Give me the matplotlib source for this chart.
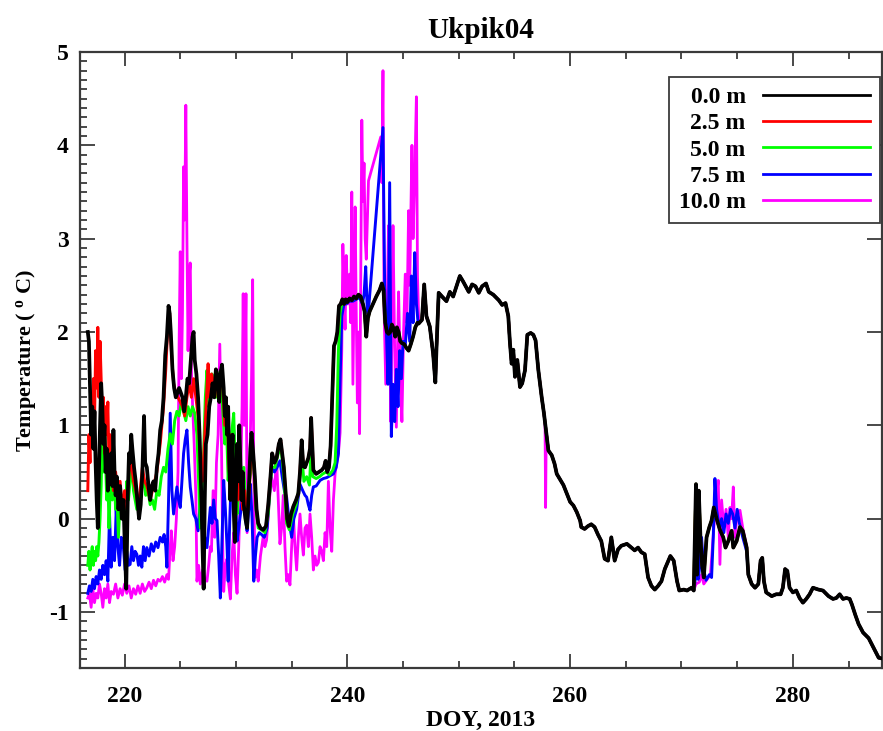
import numpy as np
import matplotlib
matplotlib.use('Agg')
import matplotlib.pyplot as plt
from matplotlib.ticker import MultipleLocator

plt.rcParams['font.family'] = ['Liberation Serif', 'DejaVu Serif']
plt.rcParams['font.weight'] = 'bold'
plt.rcParams['axes.unicode_minus'] = False
plt.rcParams['mathtext.fontset'] = 'custom'
plt.rcParams['mathtext.rm'] = 'Liberation Serif:bold'
plt.rcParams['mathtext.it'] = 'Liberation Serif:bold'
plt.rcParams['mathtext.bf'] = 'Liberation Serif:bold'

# ---- datos (DOY, temperatura en C) ----
etiquetas = ['0.0 m', '2.5 m', '5.0 m', '7.5 m', '10.0 m']
colores = ['#000000', '#ff0000', '#00ff00', '#0000ff', '#ff00ff']

# 0.0 m, tramo ruidoso 216.7 - 246.3
doy_0m = [216.7, 216.8, 216.9, 217.0, 217.1, 217.2, 217.3, 217.4, 217.5, 217.6, 217.7, 217.8, 217.9, 218.0,
          218.1, 218.2, 218.3, 218.4, 218.5, 218.6, 218.7, 218.8, 218.9, 219.0, 219.1, 219.2, 219.3, 219.45,
          219.6, 219.75, 219.9, 220.0, 220.15, 220.3, 220.4, 220.5, 220.6, 220.7, 220.85, 221.0, 221.15, 221.3,
          221.45, 221.6, 221.75, 221.85, 222.0, 222.15, 222.3, 222.45, 222.6, 222.75, 222.9, 223.05, 223.2,
          223.35, 223.5, 223.65, 223.8, 223.95, 224.05, 224.15, 224.3, 224.45, 224.6, 224.75, 224.9, 225.05,
          225.2, 225.35, 225.5, 225.65, 225.8, 225.95, 226.1, 226.2, 226.3, 226.45, 226.6, 226.75, 226.9, 227.0,
          227.1, 227.2, 227.3, 227.45, 227.6, 227.75, 227.9, 228.05, 228.2, 228.35, 228.5, 228.6, 228.75, 228.9,
          229.0, 229.1, 229.2, 229.3, 229.4, 229.5, 229.6, 229.7, 229.8, 229.9, 230.0, 230.1, 230.2, 230.3,
          230.4, 230.5, 230.6, 230.7, 230.85, 231.0, 231.15, 231.3, 231.4, 231.55, 231.7, 231.85, 232.0, 232.2,
          232.45, 232.7, 232.9, 233.1, 233.25, 233.45, 233.65, 233.85, 234.0, 234.15, 234.3, 234.45, 234.6,
          234.75, 234.95, 235.15, 235.4, 235.6, 235.75, 235.9, 236.05, 236.2, 236.35, 236.5, 236.65, 236.75,
          236.85, 236.95, 237.2, 237.45, 237.7, 237.9, 238.05, 238.2, 238.35, 238.5, 238.6, 238.7, 238.8,
          238.95, 239.1, 239.25, 239.4, 239.55, 239.7, 239.85, 240.0, 240.2, 240.4, 240.6, 240.8, 241.0, 241.2,
          241.4, 241.55, 241.7, 241.85, 242.0, 242.3, 242.6, 242.9, 243.1, 243.25, 243.4, 243.55, 243.7, 243.85,
          244.0, 244.15, 244.3, 244.45, 244.6, 244.75, 244.9, 245.1, 245.3, 245.5, 245.7, 245.9, 246.1, 246.3]
t_0m = [2.0, 1.9, 1.4, 0.9, 1.2, 0.75, 1.15, 0.6, 0.2, -0.1, 0.5, 1.0, 1.45, 1.2,
        0.8, 1.0, 0.5, 0.75, 0.3, 0.6, 0.4, 0.7, 0.35, 0.95, 0.5, 0.25, 0.45, 0.1,
        0.35, 0.0, 0.2, -0.2, -0.75, 0.3, 0.7, 0.6, 0.9, 0.75, 0.55, 0.4, 0.2, 0.0,
        0.15, 0.5, 1.1, 0.6, 0.55, 0.35, 0.2, 0.35, 0.4, 0.3, 0.55, 0.7, 0.95,
        1.05, 1.3, 1.75, 1.95, 2.28, 2.2, 2.0, 1.6, 1.4, 1.3, 1.35, 1.4, 1.35,
        1.3, 1.15, 1.3, 1.5, 1.45, 1.7, 1.95, 2.0, 1.7, 1.55, 1.3, 0.85, 0.2, -0.3,
        -0.75, 0.2, 0.8, 0.9, 1.2, 1.3, 1.45, 1.3, 1.6, 1.5, 1.25, 1.55, 1.65, 1.4,
        1.1, 1.3, 0.9, 1.2, 0.6, 0.2, 0.55, 0.9, 0.1, -0.25, 0.3, 0.8, 0.4, 1.0,
        0.6, 0.2, 0.5, 0.15, 0.0, -0.1, 0.3, 0.75, 0.92, 0.7, 0.45, 0.1, -0.05, -0.1,
        -0.12, -0.08, 0.15, 0.45, 0.7, 0.6, 0.65, 0.8, 0.85, 0.7, 0.55, 0.3, 0.0,
        -0.08, 0.05, 0.13, 0.2, 0.27, 0.5, 0.84, 0.56, 0.55, 0.6, 0.65, 0.75, 1.08,
        0.8, 0.52, 0.48, 0.5, 0.52, 0.55, 0.62, 0.5, 0.55, 0.78, 1.15, 1.5, 1.85,
        1.9, 2.0, 2.28, 2.3, 2.35, 2.3, 2.35, 2.32, 2.36, 2.34, 2.38, 2.36, 2.4, 2.38,
        2.3, 2.22, 1.95, 2.15, 2.22, 2.3, 2.38, 2.45, 2.52, 2.45, 2.1, 2.0, 1.98, 2.0,
        2.08, 2.04, 1.95, 2.05, 2.0, 1.9, 1.88, 1.87, 1.83, 1.8, 1.87, 1.95, 2.05, 2.1]

# 2.5 m, tramo propio 216.7 - 231.8 (despues coincide con 0.0 m)
doy_25m = [216.7, 216.8, 216.9, 217.0, 217.1, 217.2, 217.3, 217.4, 217.5, 217.6, 217.7, 217.8, 217.9, 218.0,
           218.1, 218.2, 218.3, 218.4, 218.5, 218.6, 218.7, 218.8, 218.9, 219.0, 219.2, 219.4, 219.6, 219.8,
           220.0, 220.2, 220.4, 220.6, 220.8, 221.0, 221.2, 221.4, 221.6, 221.8, 222.0, 222.3, 222.6, 222.9,
           223.2, 223.5, 223.7, 223.9, 224.05, 224.2, 224.4, 224.6, 224.8, 225.0, 225.2, 225.4, 225.6, 225.8,
           226.0, 226.2, 226.4, 226.6, 226.8, 227.0, 227.2, 227.4, 227.5, 227.6, 227.8, 228.0, 228.2, 228.4,
           228.6, 228.8, 229.0, 229.2, 229.4, 229.6, 229.8, 230.0, 230.2, 230.4, 230.6, 230.8, 231.0, 231.2,
           231.4, 231.6, 231.8]
t_25m = [0.3, 0.9, 0.6, 1.2, 0.8, 1.5, 1.0, 1.8, 1.4, 2.05, 1.3, 1.9, 1.5, 1.0,
         1.3, 0.7, 1.2, 0.9, 1.25, 0.6, 0.9, 0.4, 0.6, 0.3, 0.5, 0.2, 0.4, 0.1,
         0.3, 0.1, 0.5, 0.6, 0.4, 0.3, 0.15, 0.3, 0.55, 0.4, 0.35, 0.2, 0.35, 0.5,
         0.8, 1.2, 1.6, 2.1, 2.2, 1.8, 1.45, 1.35, 1.3, 1.25, 1.2, 1.1, 1.3, 1.45,
         1.3, 1.5, 1.3, 1.1, 0.6, 0.4, 0.9, 1.4, 1.66, 1.3, 1.55, 1.4, 1.6, 1.3,
         1.5, 1.45, 1.0, 1.2, 0.5, 0.9, 0.3, 0.6, 0.2, 0.5, 0.1, 0.3, 0.0, 0.3,
         0.85, 0.6, 0.15]

# 5.0 m, tramo propio 216.7 - 239.5
doy_50m = [216.7, 216.8, 216.9, 217.0, 217.1, 217.2, 217.3, 217.4, 217.5, 217.6, 217.7, 217.8, 217.9, 218.0,
           218.1, 218.2, 218.3, 218.4, 218.5, 218.6, 218.7, 218.8, 218.9, 219.0, 219.1, 219.2, 219.3, 219.45,
           219.6, 219.75, 219.9, 220.05, 220.2, 220.35, 220.5, 220.65, 220.8, 220.95, 221.1, 221.3, 221.5,
           221.7, 221.9, 222.1, 222.3, 222.5, 222.7, 222.9, 223.1, 223.3, 223.5, 223.7, 223.9, 224.1, 224.3,
           224.5, 224.7, 224.9, 225.1, 225.3, 225.5, 225.7, 225.9, 226.1, 226.3, 226.5, 226.65, 226.8, 226.95,
           227.1, 227.25, 227.4, 227.55, 227.7, 227.85, 228.0, 228.2, 228.4, 228.6, 228.8, 229.0, 229.15, 229.3,
           229.45, 229.6, 229.8, 229.95, 230.1, 230.25, 230.4, 230.55, 230.7, 230.85, 231.0, 231.15, 231.3,
           231.45, 231.6, 231.8, 232.0, 232.3, 232.6, 232.9, 233.2, 233.5, 233.8, 234.05, 234.3, 234.55, 234.8,
           235.1, 235.4, 235.7, 235.9, 236.1, 236.35, 236.6, 236.75, 236.9, 237.2, 237.5, 237.8, 238.1, 238.4,
           238.7, 238.9, 239.05, 239.2, 239.35, 239.5]
t_50m = [-0.5, -0.35, -0.55, -0.4, -0.3, -0.5, -0.35, -0.45, -0.3, -0.4, -0.25, 0.0, 0.35, 0.9,
         0.5, 1.0, 0.6, 0.2, 0.5, -0.1, 0.3, 0.55, 0.2, 0.84, 0.35, 0.1, 0.3, -0.2,
         0.2, 0.0, 0.25, 0.0, 0.4, 0.2, 0.41, 0.6, 0.3, 0.2, 0.1, 0.12, 0.3,
         0.45, 0.25, 0.3, 0.15, 0.2, 0.1, 0.3, 0.25, 0.45, 0.55, 0.5, 0.75, 0.91, 0.8,
         1.05, 1.15, 1.1, 1.25, 1.15, 1.05, 1.2, 1.1, 1.2, 1.13, 0.9, 0.4, -0.1, 0.3,
         0.7, 1.3, 1.59, 1.2, 1.45, 1.55, 1.48, 1.3, 1.5, 1.59, 1.2, 0.8, 1.0, 0.41,
         0.7, 0.9, 1.13, 0.5, 0.05, 0.3, 0.6, 0.4, 0.55, 0.2, 0.1, 0.35, 0.48,
         0.84, 0.6, 0.1, -0.1, -0.12, -0.15, 0.05, 0.55, 0.55, 0.7, 0.75, 0.45, -0.05, -0.12,
         0.05, 0.15, 0.35, 0.7, 0.4, 0.45, 0.36, 0.75, 0.45, 0.43, 0.45, 0.48, 0.5, 0.47,
         0.52, 0.6, 1.0, 1.8, 2.2, 2.3]

# 7.5 m, tramo propio 216.7 - 246.35
doy_75m = [216.7, 216.85, 217.0, 217.15, 217.3, 217.45, 217.6, 217.75, 217.9, 218.05, 218.2, 218.35, 218.5,
           218.65, 218.8, 218.95, 219.1, 219.25, 219.4, 219.55, 219.7, 219.9, 220.05, 220.2, 220.35, 220.5,
           220.65, 220.8, 220.95, 221.1, 221.25, 221.4, 221.55, 221.7, 221.85, 222.0, 222.2, 222.4, 222.6,
           222.8, 223.0, 223.2, 223.4, 223.55, 223.7, 223.8, 223.95, 224.1, 224.25, 224.4, 224.55, 224.7,
           224.85, 225.0, 225.15, 225.3, 225.45, 225.6, 225.75, 225.9, 226.05, 226.2, 226.4, 226.6, 226.75,
           226.9, 227.05, 227.2, 227.4, 227.55, 227.7, 227.85, 228.0, 228.15, 228.3, 228.45, 228.6, 228.75,
           228.9, 229.05, 229.2, 229.3, 229.45, 229.6, 229.8, 229.95, 230.1, 230.25, 230.4, 230.55, 230.7,
           230.85, 231.0, 231.15, 231.3, 231.45, 231.6, 231.75, 231.9, 232.1, 232.3, 232.55, 232.8, 233.0,
           233.2, 233.45, 233.7, 233.95, 234.15, 234.35, 234.55, 234.8, 235.0, 235.2, 235.45, 235.75, 236.0,
           236.2, 236.35, 236.5, 236.65, 236.8, 236.95, 237.2, 237.55, 237.85, 238.15, 238.45, 238.75, 239.0,
           239.2, 239.35, 239.5, 239.7, 239.9, 240.2, 240.5, 240.8, 241.1, 241.35, 241.5, 241.65, 241.8, 241.9,
           243.2, 243.35, 243.5, 243.65, 243.8, 243.95, 244.1, 244.25, 244.4, 244.55, 244.7, 244.85, 245.0,
           245.2, 245.4, 245.6, 245.75, 245.9, 246.05, 246.2, 246.35]
t_75m = [-0.8, -0.72, -0.78, -0.65, -0.75, -0.62, -0.7, -0.55, -0.65, -0.5, -0.6, -0.45, -0.67,
         0.05, -0.52, -0.2, -0.45, 0.1, -0.3, -0.5, -0.2, -0.31, -0.55, -0.35, -0.5, -0.49,
         -0.3, -0.45, -0.35, -0.38, -0.5, -0.4, -0.52, -0.3, -0.45, -0.31, -0.4, -0.27, -0.35,
         -0.25, -0.31, -0.2, -0.25, -0.17, -0.3, -0.52, 0.2, 1.13, 0.3, 0.05, 0.2, 0.34,
         0.2, 0.12, 0.4, 0.7, 0.85, 0.95, 0.6, 0.34, 0.2, 0.05, 0.0, -0.13, 0.1,
         0.34, -0.1, -0.2, -0.31, -0.1, 0.12, -0.05, 0.2, 0.0, -0.02, -0.4, -0.85, -0.2,
         0.41, 0.1, -0.3, -0.67, 0.0, 0.5, 0.95, 0.3, -0.24, -0.1, 0.05, 0.2, 0.34,
         0.0, -0.13, 0.1, 0.37, 0.0, -0.67, -0.4, -0.2, -0.15, -0.17, -0.2, -0.1, 0.25,
         0.55, 0.5, 0.55, 0.62, 0.45, 0.3, 0.23, -0.05, -0.2, 0.0, 0.1, 0.37, 0.3,
         0.25, 0.23, 0.15, 0.09, 0.25, 0.34, 0.35, 0.41, 0.43, 0.44, 0.46, 0.48, 0.55,
         0.7, 1.48, 2.17, 2.3, 2.3, 2.33, 2.33, 2.35, 2.37, 2.3, 2.4, 2.7, 2.2, 2.23,
         4.19, 2.5, 2.03, 1.44, 3.6, 0.88, 1.44, 1.04, 1.6, 1.2, 1.8, 1.5, 1.9,
         1.85, 2.2, 1.9, 2.6, 2.1, 2.85, 2.3, 2.1]

# 10.0 m, tramo propio 216.7 - 246.4
doy_100m = [216.7, 216.85, 217.0, 217.15, 217.3, 217.45, 217.6, 217.75, 217.9, 218.05, 218.2, 218.35, 218.5,
            218.65, 218.8, 219.0, 219.2, 219.4, 219.6, 219.8, 220.0, 220.2, 220.4, 220.6, 220.8, 221.0, 221.2,
            221.4, 221.6, 221.8, 222.0, 222.2, 222.4, 222.6, 222.8, 223.0, 223.2, 223.4, 223.6, 223.8, 223.95,
            224.1, 224.2, 224.35, 224.5, 224.65, 224.8, 224.9, 225.0, 225.1, 225.2, 225.3, 225.4, 225.5, 225.6,
            225.7, 225.8, 225.9, 226.0, 226.1, 226.25, 226.4, 226.5, 226.65, 226.8, 227.0, 227.2, 227.4, 227.55,
            227.7, 227.8, 227.95, 228.1, 228.25, 228.4, 228.55, 228.7, 228.8, 228.9, 229.05, 229.2, 229.35,
            229.5, 229.65, 229.8, 229.95, 230.1, 230.25, 230.4, 230.55, 230.65, 230.75, 230.9, 231.0, 231.25,
            231.4, 231.5, 231.6, 231.7, 231.85, 232.0, 232.2, 232.45, 232.6, 232.75, 233.0, 233.2, 233.45,
            233.65, 233.8, 233.95, 234.1, 234.25, 234.4, 234.55, 234.7, 234.85, 235.0, 235.15, 235.3, 235.45,
            235.6, 235.75, 235.9, 236.05, 236.2, 236.35, 236.5, 236.65, 236.8, 236.95, 237.1, 237.25, 237.4,
            237.55, 237.7, 237.85, 238.0, 238.15, 238.3, 238.45, 238.6, 238.75, 238.9, 239.0, 239.2, 239.35,
            239.5, 239.6, 239.7, 239.8, 239.9, 240.05, 240.2, 240.3, 240.4, 240.5, 240.6, 240.7, 240.8, 240.9,
            241.0, 241.1, 241.2, 241.3, 241.4, 241.5, 241.6, 241.7, 241.8, 241.9, 243.0, 243.1, 243.2, 243.3,
            243.45, 243.6, 243.7, 243.8, 243.9, 244.0, 244.1, 244.25, 244.4, 244.5, 244.6, 244.75, 244.9,
            245.05, 245.2, 245.35, 245.5, 245.6, 245.8, 245.9, 246.05, 246.2, 246.3, 246.4]
t_100m = [-0.85, -0.8, -0.95, -0.75, -0.9, -0.8, -0.85, -0.7, -0.8, -0.95, -0.75, -0.85, -0.7,
          -0.9, -0.78, -0.81, -0.7, -0.85, -0.75, -0.82, -0.7, -0.8, -0.72, -0.85, -0.75, -0.81, -0.72,
          -0.8, -0.7, -0.78, -0.74, -0.68, -0.75, -0.66, -0.72, -0.65, -0.67, -0.62, -0.68, -0.6, -0.65,
          -0.3, -0.13, -0.45, -0.3, 0.0, 0.5, 1.9, 2.86, 1.5, 2.2, 3.77, 3.2, 4.43, 3.0,
          1.8, 2.6, 2.74, 1.6, 1.24, 0.8, 0.25, -0.67, -0.5, -0.7, -0.55, -0.65, -0.67, -0.5,
          -0.3, -0.35, 0.3, -0.2, 0.6, 0.9, 1.87, 0.8, -0.2, -0.78, -0.5, -0.43, -0.7,
          -0.86, -0.4, -0.15, -0.6, -0.8, -0.3, 0.3, 1.2, 2.41, 1.0, 2.41, -0.15, 0.64,
          1.5, 2.56, 0.5, -0.63, -0.55, -0.67, -0.4, -0.19, -0.3, -0.23, 0.2, 0.44, 0.3,
          0.64, 0.2, -0.27, -0.1, 0.25, -0.3, -0.67, -0.6, -0.71, -0.3, 0.05, -0.3, -0.55,
          -0.2, 0.05, -0.2, -0.39, -0.1, -0.07, -0.3, 0.05, -0.2, -0.55, -0.4, -0.5, -0.47,
          -0.3, -0.35, -0.45, -0.15, -0.3, 0.4, -0.1, -0.35, 0.2, 0.48, 0.56, 0.7, 0.92,
          1.8, 2.94, 2.4, 2.03, 2.82, 2.3, 2.62, 2.1, 3.5, 1.44, 2.4, 3.34, 2.2, 1.24,
          2.0, 0.91, 2.5, 4.27, 3.4, 3.81, 3.0, 2.78, 3.2, 3.62, 4.09, 3.6, 4.8, 2.23,
          1.44, 2.5, 3.14, 2.2, 1.04, 2.0, 3.14, 1.8, 0.98, 1.8, 2.43, 1.6, 1.04,
          2.0, 2.62, 2.1, 3.3, 2.5, 4.0, 3.0, 3.67, 4.52, 2.6, 2.15]

# tramo comun a todas las profundidades 246.4 - 271.1
doy_com1 = [246.4, 246.7, 246.9, 247.1, 247.4, 247.7, 247.9, 248.0, 248.2, 248.5, 248.9, 249.2, 249.5, 249.8,
            250.1, 250.4, 250.9, 251.2, 251.5, 251.8, 252.1, 252.45, 252.7, 253.1, 253.6, 253.9, 254.2,
            254.45, 254.6, 254.75, 254.9, 255.05, 255.26, 255.5, 255.7, 255.95, 256.16, 256.46, 256.7, 256.9,
            257.15, 257.45, 257.65, 257.9, 258.05, 258.35, 258.6, 258.8, 259.1, 259.4, 259.7, 260.0, 260.3,
            260.6, 260.9, 261.0, 261.3, 261.6, 261.9, 262.2, 262.5, 262.8, 263.1, 263.4, 263.7, 264.0, 264.3,
            264.6, 265.1, 265.5, 265.8, 266.1, 266.4, 266.7, 267.0, 267.3, 267.6, 267.9, 268.2, 268.5, 269.0,
            269.3, 269.6, 269.8, 270.2, 270.5, 270.9, 271.1]
t_com1 = [2.09, 2.13, 2.51, 2.17, 2.06, 1.77, 1.46, 1.81, 2.42, 2.38, 2.33, 2.43, 2.38, 2.49,
          2.6, 2.54, 2.43, 2.51, 2.49, 2.42, 2.49, 2.52, 2.43, 2.4, 2.34, 2.29, 2.31,
          2.17, 1.88, 1.66, 1.81, 1.52, 1.7, 1.41, 1.45, 1.59, 1.97, 1.99, 1.97, 1.91,
          1.59, 1.3, 1.13, 0.88, 0.73, 0.68, 0.59, 0.48, 0.42, 0.36, 0.27, 0.18, 0.14,
          0.07, -0.02, -0.09, -0.11, -0.08, -0.06, -0.09, -0.17, -0.24, -0.43, -0.45, -0.2, -0.45, -0.33,
          -0.29, -0.27, -0.31, -0.34, -0.31, -0.36, -0.38, -0.63, -0.72, -0.76, -0.72, -0.67, -0.54, -0.4,
          -0.45, -0.67, -0.77, -0.76, -0.77, -0.74, -0.77]

# pico aislado de 10.0 m
doy_100m_pico = [257.75, 257.8, 257.85]
t_100m_pico = [1.0, 0.12, 0.85]

# 271.3 - 275.85: 0.0 / 2.5 / 5.0 m
doy_osc = [271.3, 271.4, 271.55, 271.7, 271.85, 272.0, 272.25, 272.5, 272.7, 272.9, 273.15, 273.45, 273.75,
           273.95, 274.2, 274.5, 274.65, 274.95, 275.25, 275.5, 275.85]
t_osc = [0.37, -0.6, 0.3, -0.2, -0.5, -0.63, -0.2, -0.09, -0.02, 0.12, 0.0, -0.12, -0.2,
         -0.31, -0.24, -0.13, -0.31, -0.24, -0.09, -0.13, -0.31]
# 271.3 - 275.85: 7.5 m
doy_osc_75m = [271.3, 271.5, 271.65, 271.8, 272.0, 272.2, 272.5, 272.7, 272.85, 273.0, 273.15, 273.4, 273.6,
               273.8, 274.0, 274.2, 274.4, 274.6, 274.8, 275.0, 275.2, 275.5, 275.85]
t_osc_75m = [-0.6, -0.65, -0.5, -0.2, -0.55, -0.66, -0.6, -0.63, -0.2, 0.43, 0.1, -0.1, 0.0,
             -0.15, 0.05, -0.05, 0.1, 0.05, -0.1, 0.1, -0.05, -0.2, -0.35]
# 271.3 - 275.85: 10.0 m
doy_osc_100m = [271.3, 271.6, 271.8, 272.0, 272.3, 272.6, 272.9, 273.1, 273.3, 273.45, 273.6, 273.8, 274.0,
                274.2, 274.35, 274.5, 274.65, 274.8, 275.0, 275.25, 275.5, 275.85]
t_osc_100m = [-0.7, -0.68, -0.6, -0.7, -0.65, -0.6, -0.1, 0.2, 0.41, -0.49, 0.2, -0.1, 0.1,
              -0.2, 0.12, 0.0, 0.34, -0.2, 0.05, 0.09, -0.1, -0.3]

# tramo comun final 276.0 - 288.1
doy_com2 = [276.0, 276.3, 276.6, 276.9, 277.1, 277.25, 277.4, 277.6, 278.1, 278.5, 278.9, 279.1, 279.3, 279.5,
            279.7, 280.0, 280.3, 280.6, 280.9, 281.2, 281.5, 281.8, 282.3, 282.7, 283.2, 283.6, 283.9, 284.2,
            284.5, 284.8, 285.1, 285.3, 285.6, 285.9, 286.3, 286.8, 287.1, 287.4, 287.7, 288.1]
t_com2 = [-0.6, -0.7, -0.74, -0.7, -0.45, -0.42, -0.67, -0.79, -0.83, -0.81, -0.81, -0.74, -0.54, -0.56,
          -0.74, -0.79, -0.77, -0.85, -0.9, -0.86, -0.81, -0.74, -0.76, -0.77, -0.83, -0.86, -0.85, -0.81,
          -0.86, -0.85, -0.86, -0.92, -1.03, -1.13, -1.22, -1.28, -1.35, -1.42, -1.49, -1.5]


def unir(*tramos):
    x = np.concatenate([np.asarray(a, dtype=float) for a, b in tramos])
    y = np.concatenate([np.asarray(b, dtype=float) for a, b in tramos])
    orden = np.argsort(x, kind='stable')
    return x[orden], y[orden]


def desde(x, y, x0):
    x = np.asarray(x); y = np.asarray(y)
    m = x >= x0
    return x[m], y[m]


x0, y0 = unir((doy_0m, t_0m), (doy_com1, t_com1), (doy_osc, t_osc), (doy_com2, t_com2))
x25, y25 = unir((doy_25m, t_25m), desde(x0, y0, 232.0))
x50, y50 = unir((doy_50m, t_50m), desde(x0, y0, 239.55))
x75, y75 = unir((doy_75m, t_75m), (doy_com1, t_com1), (doy_osc_75m, t_osc_75m), (doy_com2, t_com2))
com1_sin_pico = [(d, t) for d, t in zip(doy_com1, t_com1) if not (257.7 < d < 257.9)]
x100, y100 = unir((doy_100m, t_100m), ([d for d, t in com1_sin_pico], [t for d, t in com1_sin_pico]),
                  (doy_100m_pico, t_100m_pico), (doy_osc_100m, t_osc_100m), (doy_com2, t_com2))

series = [(x0, y0), (x25, y25), (x50, y50), (x75, y75), (x100, y100)]
anchos = [2.7, 2.1, 2.1, 2.1, 2.0]
zorders = [6, 5, 4, 3, 2]

fig = plt.figure(figsize=(8.83, 7.31), dpi=100)
ax = fig.add_axes([80/883, 1 - 668/731, 802/883, 616/731])

for (x, y), lab, c, lw, z in zip(series, etiquetas, colores, anchos, zorders):
    ax.plot(x, y, color=c, lw=lw, label=lab, zorder=z)

ax.set_xlim(216, 288)
ax.set_ylim(-1.6, 5)
ax.xaxis.set_major_locator(MultipleLocator(20))
ax.xaxis.set_minor_locator(MultipleLocator(5))
ax.yaxis.set_major_locator(MultipleLocator(1))
ax.yaxis.set_minor_locator(MultipleLocator(0.1))

gris = '#3a3a3a'
for s in ax.spines.values():
    s.set_color(gris)
    s.set_linewidth(1.6)
ax.tick_params(axis='both', which='both', direction='in', top=True, right=True, colors=gris,
               labelcolor='black', width=1.3)
ax.tick_params(axis='x', which='major', length=10, pad=13, labelsize=17)
ax.tick_params(axis='x', which='minor', length=5)
ax.tick_params(axis='y', which='major', length=11, pad=8, labelsize=17)
ax.tick_params(axis='y', which='minor', length=5, right=False)

ax.set_title('Ukpik04', fontsize=21, fontweight='bold', pad=10)
ax.set_xlabel('DOY, 2013', fontsize=17, fontweight='bold', labelpad=2)
ax.set_ylabel(r'Temperature ( $^{\rm o}$ C)', fontsize=16, fontweight='bold', labelpad=8)

leg = ax.legend(loc='upper right', bbox_to_anchor=(0.997, 0.96), borderaxespad=0, markerfirst=False,
                fancybox=False, framealpha=1, edgecolor=gris, fontsize=17, handlelength=4.5,
                handletextpad=0.75, labelspacing=0.2, borderpad=0.42)
leg.get_frame().set_linewidth(1.3)
for ln in leg.get_lines():
    ln.set_linewidth(2.0)

fig.savefig('out.png', dpi=100)
